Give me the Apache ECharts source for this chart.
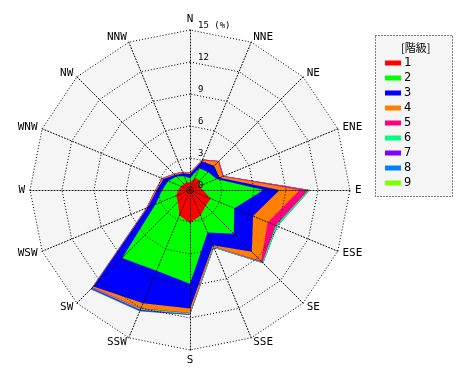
<!DOCTYPE html>
<html><head><meta charset="utf-8">
<script src="https://cdn.jsdelivr.net/npm/echarts@6/dist/echarts.min.js"></script>
<style>html,body{margin:0;padding:0;background:#fff}#c{width:470px;height:380px}</style>
</head><body><div id="c"></div>
<script>
// Directions, clockwise from north
var directions = ['N','NNE','NE','ENE','E','ESE','SE','SSE','S','SSW','SW','WSW','W','WNW','NW','NNW'];
var radiusTicks = [0,3,6,9,12,15];
var classNames = ['1','2','3','4','5','6','7','8','9'];
var classColors = ['#ff0000','#00ff00','#0000ff','#ff8000','#ff0080','#00ff80','#8000ff','#0080ff','#80ff00'];
// Frequency (%) per class, per direction (N clockwise)
var class1 = [0.7,1.2,1.3,0.9,1.2,2.1,2.1,2.6,3.1,2.6,1.6,1.4,1.1,0.9,0.8,0.8];
var class2 = [0.4,1.0,1.1,1.8,5.7,2.4,3.7,1.7,5.7,5.6,7.4,2.1,1.5,1.3,1.0,0.6];
var class3 = [0.4,0.7,0.8,0.3,1.5,1.9,2.4,1.3,2.3,3.3,3.8,0.8,0.5,0.5,0.2,0.3];
var class4 = [0.1,0.1,0.55,0.3,1.9,1.5,1.2,0.1,0.4,0.5,0.1,0.1,0.1,0.1,0.1,0.1];
var class5 = [0.05,0.1,0.1,0.1,0.8,0.8,0.2,0.05,0.05,0.05,0.05,0.05,0.05,0.05,0.05,0.05];
var class6 = [0,0,0,0,0.15,0.15,0.1,0.1,0.1,0.1,0.05,0,0,0,0,0];
var class7 = [0,0,0,0,0,0,0,0,0.05,0.1,0.1,0,0,0,0,0];
var class8 = [0,0,0,0,0,0,0,0,0.03,0.05,0.05,0,0,0,0,0];
var class9 = [0,0,0,0,0,0,0,0,0,0.03,0.03,0,0,0,0,0];
var classes = [class1,class2,class3,class4,class5,class6,class7,class8,class9];

// radar places indicators counter-clockwise; reorder so directions go clockwise
var order = [0];
for (var i = directions.length - 1; i >= 1; i--) order.push(i);

var cum = [];
var running = directions.map(function(){return 0;});
classes.forEach(function(arr){
  running = running.map(function(v,i){return v + arr[i];});
  cum.push(running.slice());
});

var series = [];
for (var k = classes.length - 1; k >= 0; k--) {
  series.push({
    type: 'radar', name: classNames[k], radarIndex: 0, symbol: 'none', silent: true,
    z: 1,
    itemStyle: {color: classColors[k]},
    lineStyle: {width: 0, color: classColors[k]},
    areaStyle: {color: classColors[k], opacity: 1},
    data: [{name: classNames[k], value: order.map(function(i){return cum[k][i];})}]
  });
}

var indicators = order.map(function(i){return {name: directions[i], max: 15, min: 0};});
var dotted = {color: '#000', type: [1,2], width: 1};

var chart = echarts.init(document.getElementById('c'), null, {renderer:'canvas'});
chart.setOption({
  animation: false,
  backgroundColor: '#ffffff',
  title: {text: '[階級]', left: 396, top: 37, textStyle: {fontSize: 11, fontWeight: 'normal', color: '#000', fontFamily: 'Noto Sans CJK JP'}},
  graphic: [{type: 'rect', left: 375, top: 35, shape: {width: 77, height: 161}, z: -10,
    style: {fill: '#f5f5f5', stroke: '#000', lineWidth: 1, lineDash: [1,2]}}],
  legend: {
    orient: 'vertical', left: 380, top: 52, itemWidth: 16, itemHeight: 5, itemGap: 3,
    icon: 'rect', data: classNames, selectedMode: false,
    textStyle: {fontSize: 12, lineHeight: 12, color: '#000', fontFamily: 'DejaVu Sans Mono', padding: [0,0,0,-2]}
  },
  radar: [{
    center: [190, 190], radius: 160, startAngle: 90, shape: 'polygon', splitNumber: 5,
    indicator: indicators,
    axisName: {show: false},
    axisLine: {show: false},
    splitLine: {show: false},
    splitArea: {show: true, areaStyle: {color: ['#f5f5f5']}},
    z: 0
  }, {
    center: [190, 190], radius: 160, startAngle: 90, shape: 'polygon', splitNumber: 5,
    indicator: indicators,
    axisName: {color: '#000', fontSize: 11, fontFamily: 'DejaVu Sans Mono'},
    nameGap: 5,
    axisLine: {lineStyle: dotted},
    splitLine: {lineStyle: dotted},
    splitArea: {show: false},
    z: 5
  }],
  polar: {center: [190, 190], radius: 160},
  angleAxis: {type: 'value', min: 0, max: 360, startAngle: 90, show: false},
  radiusAxis: {
    type: 'value', min: 0, max: 15, interval: 3, z: 10,
    axisLine: {show: false}, axisTick: {show: false}, splitLine: {show: false},
    axisLabel: {show: true, inside: true, margin: 4, verticalAlign: 'bottom', align: 'left',
      padding: [0, 0, 0, 12],
      fontSize: 9, color: '#000', fontFamily: 'DejaVu Sans Mono',
      formatter: function(v){ return v === radiusTicks[radiusTicks.length-1] ? v + ' (%)' : String(v); }}
  },
  series: series
});
</script></body></html>
